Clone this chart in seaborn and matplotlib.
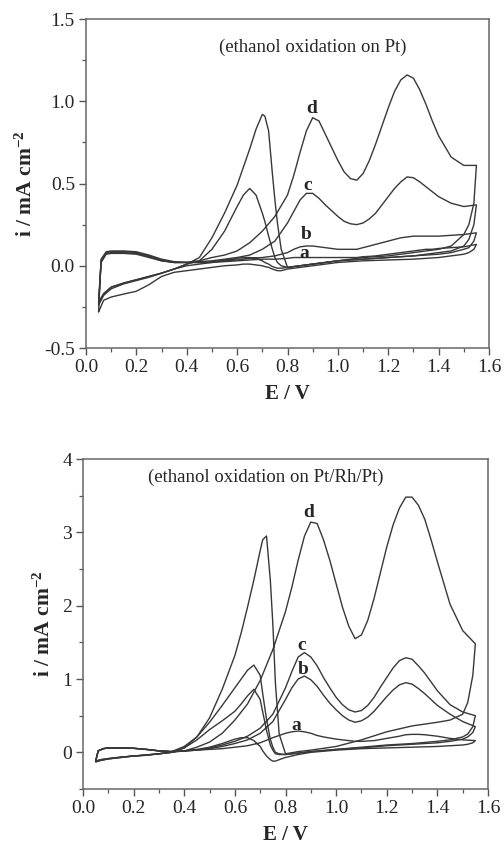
import pandas as pd
import matplotlib
matplotlib.use("Agg")
import matplotlib.pyplot as plt
import seaborn as sns
from matplotlib.ticker import MultipleLocator, FormatStrFormatter


# ──────────────────────────────────────────────
# Data
# ──────────────────────────────────────────────

# potential grids for the anodic (forward) and cathodic (reverse) sweeps, V
E_FWD = [0.05, 0.06, 0.08, 0.10, 0.15, 0.20, 0.25, 0.30, 0.35, 0.40,
         0.45, 0.50, 0.55, 0.60, 0.65, 0.70, 0.75, 0.80, 0.825, 0.85,
         0.875, 0.90, 0.925, 0.95, 0.975, 1.00, 1.025, 1.05, 1.075, 1.10,
         1.125, 1.15, 1.175, 1.20, 1.225, 1.25, 1.275, 1.30, 1.325, 1.35,
         1.375, 1.40, 1.45, 1.50, 1.55]
E_REV = [1.55, 1.54, 1.52, 1.50, 1.45, 1.40, 1.30, 1.20, 1.10, 1.00,
         0.90, 0.85, 0.80, 0.775, 0.76, 0.75, 0.74, 0.725, 0.71, 0.70,
         0.675, 0.65, 0.625, 0.60, 0.55, 0.50, 0.45, 0.40, 0.35, 0.30,
         0.25, 0.20, 0.15, 0.10, 0.07, 0.05]

# --- Pt electrode, mA cm-2 ---
PT_A_FWD = [-0.28, 0.04, 0.085, 0.09, 0.09, 0.085, 0.065, 0.04, 0.025, 0.02,
            0.02, 0.02, 0.025, 0.03, 0.035, 0.04, 0.04, 0.045, 0.05, 0.05,
            0.05, 0.05, 0.05, 0.05, 0.05, 0.05, 0.05, 0.05, 0.05, 0.055,
            0.057, 0.06, 0.065, 0.07, 0.075, 0.08, 0.085, 0.09, 0.095, 0.10,
            0.10, 0.105, 0.11, 0.115, 0.13]
PT_B_FWD = [-0.24, 0.03, 0.08, 0.085, 0.085, 0.08, 0.06, 0.035, 0.02, 0.02,
            0.02, 0.025, 0.03, 0.035, 0.045, 0.05, 0.06, 0.08, 0.10, 0.115,
            0.12, 0.12, 0.115, 0.11, 0.105, 0.10, 0.10, 0.10, 0.10, 0.11,
            0.12, 0.13, 0.14, 0.15, 0.16, 0.17, 0.175, 0.18, 0.18, 0.18,
            0.18, 0.18, 0.185, 0.19, 0.20]
PT_C_FWD = [-0.23, 0.02, 0.07, 0.075, 0.075, 0.07, 0.05, 0.03, 0.02, 0.02,
            0.025, 0.03, 0.04, 0.05, 0.065, 0.10, 0.15, 0.26, 0.33, 0.40,
            0.44, 0.44, 0.41, 0.37, 0.335, 0.30, 0.27, 0.255, 0.25, 0.26,
            0.285, 0.32, 0.37, 0.42, 0.47, 0.51, 0.54, 0.535, 0.51, 0.48,
            0.45, 0.42, 0.38, 0.36, 0.37]
PT_D_FWD = [-0.22, 0.03, 0.075, 0.08, 0.08, 0.075, 0.055, 0.03, 0.02, 0.02,
            0.03, 0.05, 0.065, 0.09, 0.14, 0.21, 0.30, 0.43, 0.55, 0.69,
            0.82, 0.90, 0.88, 0.80, 0.72, 0.64, 0.57, 0.53, 0.52, 0.56,
            0.64, 0.74, 0.85, 0.96, 1.06, 1.13, 1.16, 1.14, 1.07, 0.98,
            0.88, 0.79, 0.66, 0.61, 0.61]

PT_A_REV = [0.13, 0.10, 0.08, 0.07, 0.06, 0.05, 0.04, 0.035, 0.03, 0.02,
            0.0, -0.01, -0.02, -0.03, -0.03, -0.025, -0.02, -0.01, -0.005, 0.0,
            0.005, 0.01, 0.01, 0.005, 0.0, -0.01, -0.02, -0.03, -0.04, -0.065,
            -0.115, -0.155, -0.172, -0.19, -0.21, -0.28]
PT_B_REV = [0.20, 0.15, 0.11, 0.10, 0.08, 0.07, 0.06, 0.05, 0.04, 0.03,
            0.01, 0.0, -0.01, -0.015, -0.015, -0.01, -0.005, 0.01, 0.02, 0.03,
            0.045, 0.05, 0.05, 0.045, 0.035, 0.02, 0.01, 0.0, -0.02, -0.045,
            -0.07, -0.09, -0.11, -0.14, -0.18, -0.24]
PT_C_REV = [0.37, 0.25, 0.16, 0.12, 0.09, 0.08, 0.06, 0.05, 0.04, 0.03,
            0.01, 0.0, -0.01, 0.0, 0.02, 0.05, 0.10, 0.18, 0.27, 0.32,
            0.43, 0.47, 0.43, 0.36, 0.21, 0.10, 0.03, 0.01, -0.02, -0.045,
            -0.065, -0.085, -0.105, -0.13, -0.17, -0.23]
PT_D_REV = [0.61, 0.38, 0.25, 0.19, 0.12, 0.10, 0.08, 0.06, 0.05, 0.03,
            0.01, 0.0, -0.01, 0.10, 0.26, 0.40, 0.56, 0.82, 0.91, 0.92,
            0.83, 0.71, 0.60, 0.49, 0.32, 0.17, 0.05, 0.01, -0.02, -0.045,
            -0.065, -0.085, -0.105, -0.13, -0.17, -0.22]

# --- Pt/Rh/Pt electrode, mA cm-2 ---
RH_A_FWD = [-0.12, 0.02, 0.05, 0.06, 0.06, 0.055, 0.04, 0.02, 0.01, 0.02,
            0.03, 0.04, 0.05, 0.07, 0.09, 0.13, 0.20, 0.26, 0.28, 0.29,
            0.28, 0.26, 0.23, 0.21, 0.195, 0.18, 0.17, 0.16, 0.15, 0.15,
            0.155, 0.16, 0.175, 0.19, 0.205, 0.22, 0.24, 0.245, 0.245, 0.24,
            0.23, 0.22, 0.19, 0.17, 0.16]
RH_B_FWD = [-0.12, 0.02, 0.05, 0.06, 0.06, 0.055, 0.04, 0.02, 0.01, 0.02,
            0.03, 0.05, 0.08, 0.12, 0.17, 0.26, 0.42, 0.72, 0.88, 1.00,
            1.04, 0.99, 0.90, 0.78, 0.67, 0.58, 0.50, 0.44, 0.41, 0.43,
            0.48, 0.56, 0.66, 0.76, 0.85, 0.92, 0.95, 0.93, 0.87, 0.80,
            0.72, 0.64, 0.52, 0.42, 0.35]
RH_C_FWD = [-0.12, 0.02, 0.05, 0.06, 0.06, 0.055, 0.04, 0.02, 0.01, 0.02,
            0.03, 0.06, 0.10, 0.15, 0.22, 0.33, 0.52, 0.88, 1.10, 1.30,
            1.36, 1.30, 1.18, 1.02, 0.88, 0.75, 0.65, 0.58, 0.55, 0.57,
            0.64, 0.75, 0.89, 1.02, 1.15, 1.25, 1.29, 1.27, 1.18, 1.08,
            0.96, 0.84, 0.65, 0.55, 0.50]
RH_D_FWD = [-0.12, 0.02, 0.05, 0.06, 0.06, 0.055, 0.04, 0.02, 0.01, 0.02,
            0.07, 0.14, 0.26, 0.44, 0.66, 0.98, 1.40, 1.92, 2.25, 2.62,
            2.95, 3.14, 3.12, 2.90, 2.62, 2.30, 1.98, 1.72, 1.55, 1.60,
            1.80, 2.10, 2.45, 2.80, 3.10, 3.33, 3.48, 3.48, 3.37, 3.18,
            2.90, 2.60, 2.02, 1.66, 1.48]

RH_A_REV = [0.16, 0.13, 0.11, 0.10, 0.09, 0.08, 0.07, 0.06, 0.05, 0.03,
            0.0, -0.03, -0.07, -0.10, -0.12, -0.12, -0.10, -0.05, 0.02, 0.08,
            0.16, 0.20, 0.20, 0.18, 0.12, 0.07, 0.04, 0.02, 0.0, -0.02,
            -0.04, -0.05, -0.07, -0.09, -0.11, -0.13]
RH_B_REV = [0.35, 0.27, 0.21, 0.18, 0.15, 0.13, 0.11, 0.09, 0.06, 0.04,
            0.01, -0.01, -0.03, -0.03, -0.02, 0.03, 0.10, 0.30, 0.55, 0.72,
            0.86, 0.77, 0.66, 0.56, 0.43, 0.31, 0.17, 0.06, 0.0, -0.02,
            -0.035, -0.05, -0.065, -0.085, -0.10, -0.12]
RH_C_REV = [0.50, 0.35, 0.25, 0.21, 0.17, 0.15, 0.12, 0.10, 0.07, 0.04,
            0.01, -0.01, -0.03, -0.02, 0.0, 0.07, 0.18, 0.45, 0.80, 1.05,
            1.19, 1.12, 1.00, 0.88, 0.64, 0.41, 0.21, 0.08, 0.01, -0.02,
            -0.035, -0.05, -0.065, -0.085, -0.10, -0.12]
RH_D_REV = [1.48, 1.05, 0.68, 0.52, 0.44, 0.41, 0.36, 0.28, 0.17, 0.08,
            0.03, 0.01, -0.02, 0.25, 0.95, 1.75, 2.35, 2.95, 2.90, 2.75,
            2.35, 1.98, 1.63, 1.32, 0.86, 0.47, 0.21, 0.06, 0.0, -0.02,
            -0.04, -0.05, -0.07, -0.09, -0.11, -0.13]

CURVE_NAMES = ["a", "b", "c", "d"]
PT_FWD = [PT_A_FWD, PT_B_FWD, PT_C_FWD, PT_D_FWD]
PT_REV = [PT_A_REV, PT_B_REV, PT_C_REV, PT_D_REV]
RH_FWD = [RH_A_FWD, RH_B_FWD, RH_C_FWD, RH_D_FWD]
RH_REV = [RH_A_REV, RH_B_REV, RH_C_REV, RH_D_REV]

# curve-letter label positions (E, i) and panel captions
PT_LABEL_POS = {"a": (0.865, 0.077), "b": (0.873, 0.19), "c": (0.882, 0.486), "d": (0.896, 0.953)}
RH_LABEL_POS = {"a": (0.844, 0.36), "b": (0.87, 1.13), "c": (0.864, 1.45), "d": (0.89, 3.27)}


# ──────────────────────────────────────────────
# Helpers
# ──────────────────────────────────────────────

def build_frame(fwd_list, rev_list):
    """Long-form frame: one closed CV loop per curve."""
    rows = []
    for name, fwd, rev in zip(CURVE_NAMES, fwd_list, rev_list):
        for k, (e, i) in enumerate(zip(E_FWD + E_REV, fwd + rev)):
            rows.append({"curve": name, "step": k, "E": e, "i": i})
    return pd.DataFrame(rows)


def draw_panel(ax, df, ylim, ymajor, yminor, yfmt, caption, caption_pos, label_pos):
    sns.lineplot(data=df, x="E", y="i", units="curve", estimator=None,
                 sort=False, color="#383838", linewidth=1.0, ax=ax)
    ax.set_xlim(0.0, 1.6)
    ax.set_ylim(*ylim)
    ax.xaxis.set_major_locator(MultipleLocator(0.2))
    ax.xaxis.set_minor_locator(MultipleLocator(0.1))
    ax.xaxis.set_major_formatter(FormatStrFormatter("%.1f"))
    ax.yaxis.set_major_locator(MultipleLocator(ymajor))
    ax.yaxis.set_minor_locator(MultipleLocator(yminor))
    ax.yaxis.set_major_formatter(FormatStrFormatter(yfmt))
    ax.tick_params(which="major", direction="out", length=5, width=1.0,
                   color="#555555", labelsize=14, pad=3)
    ax.tick_params(which="minor", direction="out", length=3, width=0.9,
                   color="#555555")
    for sp in ax.spines.values():
        sp.set_color("#666666")
        sp.set_linewidth(1.1)
    ax.set_xlabel("E / V", fontsize=15, fontweight="bold", labelpad=6)
    ax.set_ylabel("i / mA cm$^{-2}$", fontsize=15.5, fontweight="bold", labelpad=5)
    ax.text(*caption_pos, caption, fontsize=13.5, ha="center", va="center")
    for name, (x, y) in label_pos.items():
        ax.text(x, y, name, fontsize=14, fontweight="bold", ha="center", va="center")


# ──────────────────────────────────────────────
# Figure
# ──────────────────────────────────────────────

sns.set_theme(style="ticks")
plt.rcParams["font.family"] = ["Liberation Serif", "DejaVu Serif"]
plt.rcParams["mathtext.fontset"] = "custom"
plt.rcParams["mathtext.rm"] = "Liberation Serif"
plt.rcParams["mathtext.bf"] = "Liberation Serif:bold"
plt.rcParams["mathtext.default"] = "bf"

fig = plt.figure(figsize=(5.04, 8.48), dpi=100)
ax_top = fig.add_axes([86 / 504, 1 - 348 / 848, 403 / 504, 329 / 848])
ax_bot = fig.add_axes([83 / 504, 1 - 789 / 848, 405 / 504, 330 / 848])

draw_panel(ax_top, build_frame(PT_FWD, PT_REV), (-0.5, 1.5), 0.5, 0.25, "%.1f",
           "(ethanol oxidation on Pt)", (0.90, 1.33), PT_LABEL_POS)
draw_panel(ax_bot, build_frame(RH_FWD, RH_REV), (-0.5, 4.0), 1.0, 0.5, "%d",
           "(ethanol oxidation on Pt/Rh/Pt)", (0.72, 3.75), RH_LABEL_POS)

fig.savefig("out.png", dpi=100, facecolor="white")
